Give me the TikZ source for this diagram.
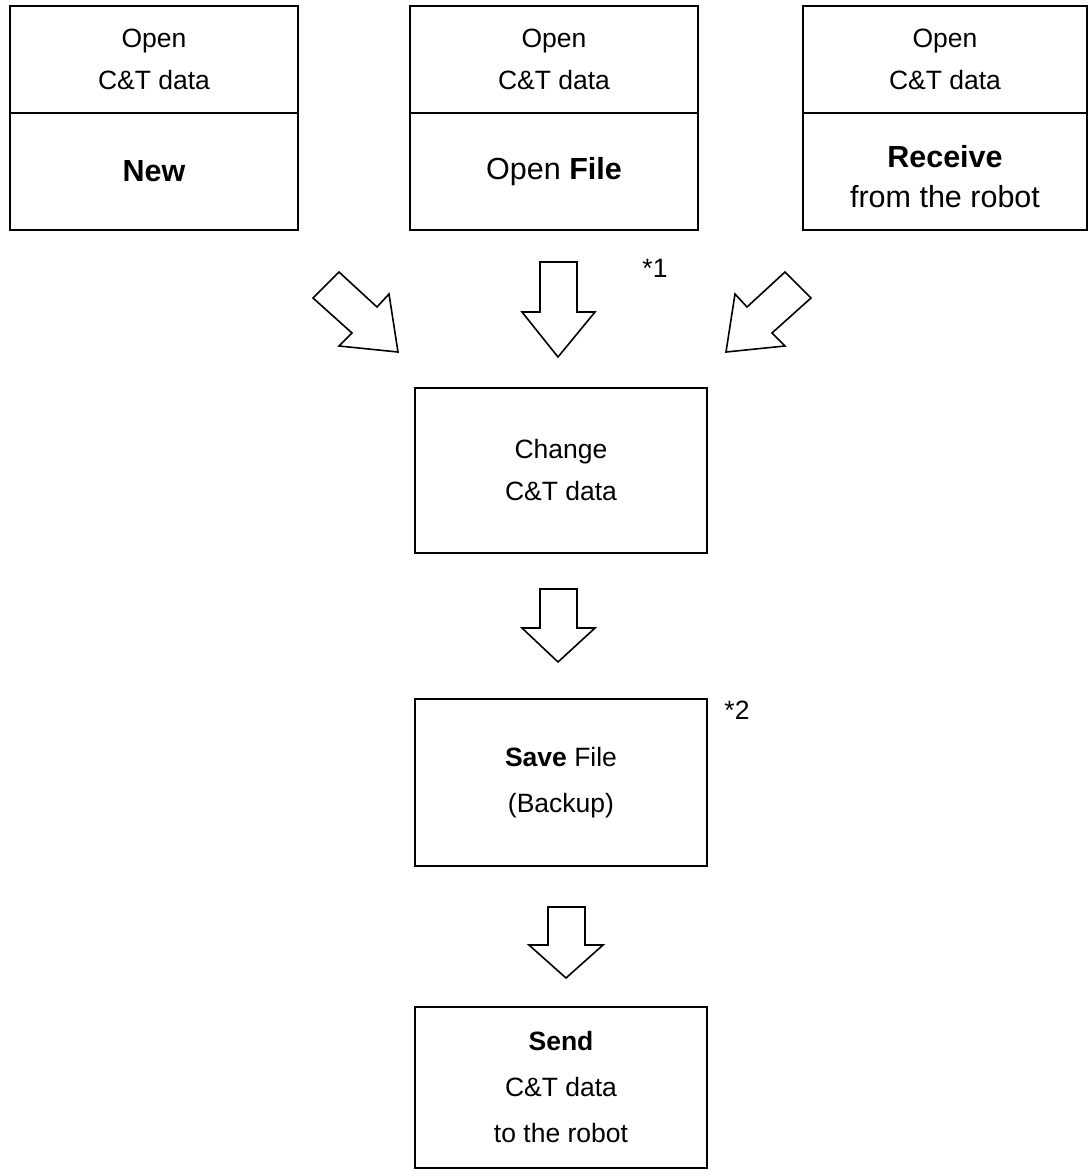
\documentclass[tikz,border=0pt]{standalone}
\usepackage{fontspec}
\setmainfont{Liberation Sans}
\begin{document}
\begin{tikzpicture}[x=1pt,y=-1pt, line width=1.6pt,
  box/.style={draw, inner sep=0pt, align=center},
  small/.style={font=\fontsize{26.5}{42}\selectfont},
  smallb/.style={font=\fontsize{26.5}{46}\selectfont},
  big/.style={font=\fontsize{30.5}{40}\selectfont},
  blockarrow/.style={draw, line join=miter, fill=white}]
\useasboundingbox (0,0) rectangle (1089,1171);

% top boxes
\node[box,small,minimum width=288pt,minimum height=107pt] (newtop) at (154,59.5) {Open\\C\&T data};
\node[box,big,minimum width=288pt,minimum height=117pt] (newbot) at (154,171.5) {\textbf{New}};

\node[box,small,minimum width=288pt,minimum height=107pt] (filetop) at (554,59.5) {Open\\C\&T data};
\node[box,big,minimum width=288pt,minimum height=117pt] (filebot) at (554,171.5) {Open \textbf{File}};

\node[box,small,minimum width=284pt,minimum height=107pt] (rcvtop) at (945,59.5) {Open\\C\&T data};
\node[box,minimum width=284pt,minimum height=117pt] (rcvbot) at (945,171.5) {};
\node[big,align=center,inner sep=0pt] (rcvtext) at ([yshift=-5pt]rcvbot.center) {\textbf{Receive}\\from the robot};

% middle column
\node[box,small,minimum width=292pt,minimum height=165pt] (change) at (561,470.5) {Change\\C\&T data};
\node[box,smallb,minimum width=292pt,minimum height=167pt] (save) at (561,782.5) {\textbf{Save} File\\(Backup)};
\node[box,smallb,minimum width=292pt,minimum height=161pt] (send) at (561,1087.5) {\textbf{Send}\\C\&T data\\to the robot};

% notes
\node[small,inner sep=0pt] (note1) at (655,268) {*1};
\node[small,inner sep=0pt] (note2) at (737,710) {*2};

% block arrows
\draw[blockarrow] (313,298) -- (339,272) -- (377,307) -- (389,294) -- (398,352) -- (339,346) -- (352,333) -- cycle;
\draw[blockarrow] (811,298) -- (785,272) -- (747,307) -- (735,294) -- (726,352) -- (785,346) -- (772,333) -- cycle;
\draw[blockarrow] (540,262) -- (577,262) -- (577,312) -- (595,312) -- (558,357) -- (522,312) -- (540,312) -- cycle;
\draw[blockarrow] (540,589) -- (577,589) -- (577,628) -- (595,628) -- (558,662) -- (522,628) -- (540,628) -- cycle;
\draw[blockarrow] (548,907) -- (585,907) -- (585,945) -- (603,945) -- (566,978) -- (529,945) -- (548,945) -- cycle;
\end{tikzpicture}
\end{document}
